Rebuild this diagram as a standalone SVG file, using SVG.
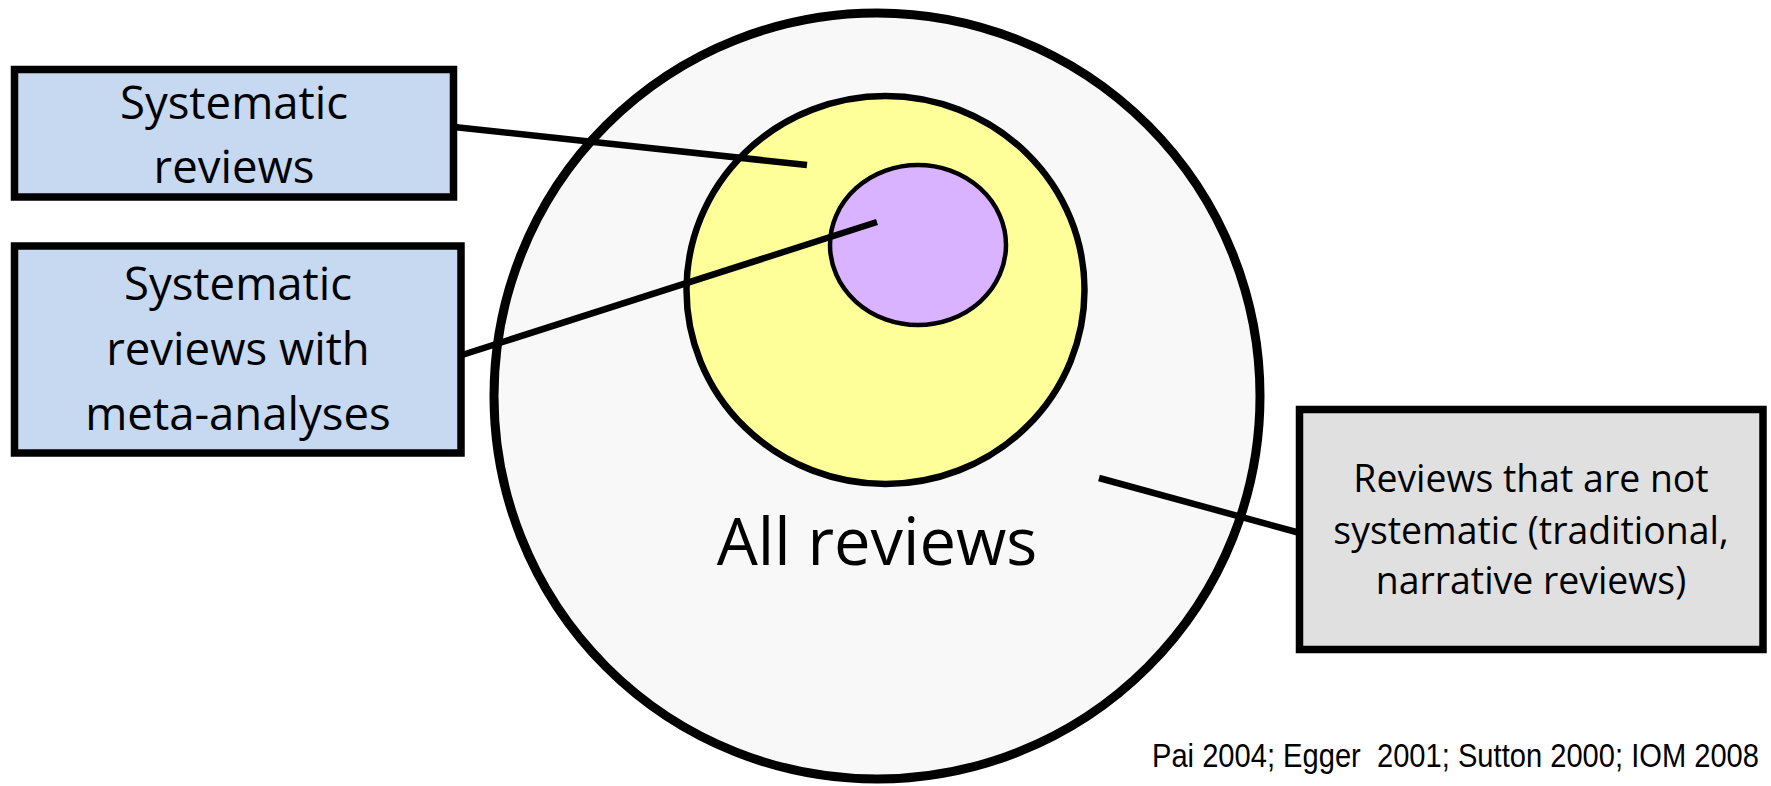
<svg xmlns="http://www.w3.org/2000/svg" width="1771" height="786" viewBox="0 0 1771 786">
<style>
.lbl{font-family:"Open Sans","Liberation Sans",sans-serif;fill:#000;text-anchor:middle}
.box{stroke:#000;stroke-width:7.5}
.conn line{stroke:#000;stroke-width:6.5}
</style>
<rect width="1771" height="786" fill="#ffffff"/>
<g id="all-reviews">
<circle cx="877" cy="396" r="383" fill="#f8f8f8" stroke="#000" stroke-width="9"/>
<text class="lbl" x="877" y="565" font-size="65">All reviews</text>
</g>
<g id="systematic-ellipse">
<ellipse cx="885.5" cy="290" rx="199" ry="194" fill="#ffff99" stroke="#000" stroke-width="6.5"/>
</g>
<g id="meta-ellipse">
<ellipse cx="918" cy="245" rx="88" ry="80" fill="#d9b3ff" stroke="#000" stroke-width="4.5"/>
</g>
<g class="conn" id="connectors">
<line x1="454" y1="127" x2="807" y2="165"/>
<line x1="462" y1="355" x2="877" y2="222"/>
<line x1="1099" y1="478" x2="1300" y2="533"/>
</g>
<g id="box-systematic">
<rect class="box" x="14.5" y="69.5" width="439" height="127.5" fill="#c6d9f1"/>
<text class="lbl" x="234" y="119" font-size="45.5">Systematic</text>
<text class="lbl" x="234" y="182.5" font-size="45.5">reviews</text>
</g>
<g id="box-meta">
<rect class="box" x="14.5" y="246" width="446.5" height="207" fill="#c6d9f1"/>
<text class="lbl" x="238" y="300" font-size="45.5">Systematic</text>
<text class="lbl" x="238" y="365" font-size="45.5">reviews with</text>
<text class="lbl" x="238" y="430" font-size="45.5">meta-analyses</text>
</g>
<g id="box-nonsystematic">
<rect class="box" x="1299.5" y="409.5" width="463.5" height="240" fill="#e0e0e0"/>
<text class="lbl" x="1531" y="492" font-size="37.4">Reviews that are not</text>
<text class="lbl" x="1531" y="544" font-size="37.4">systematic (traditional,</text>
<text class="lbl" x="1531" y="594" font-size="37.4">narrative reviews)</text>
</g>
<g id="citation">
<text x="1152" y="767" font-family="Liberation Sans, Arial, sans-serif" font-size="33" fill="#000" xml:space="preserve" style="white-space:pre" textLength="607" lengthAdjust="spacingAndGlyphs">Pai 2004; Egger  2001; Sutton 2000; IOM 2008</text>
</g>
</svg>
